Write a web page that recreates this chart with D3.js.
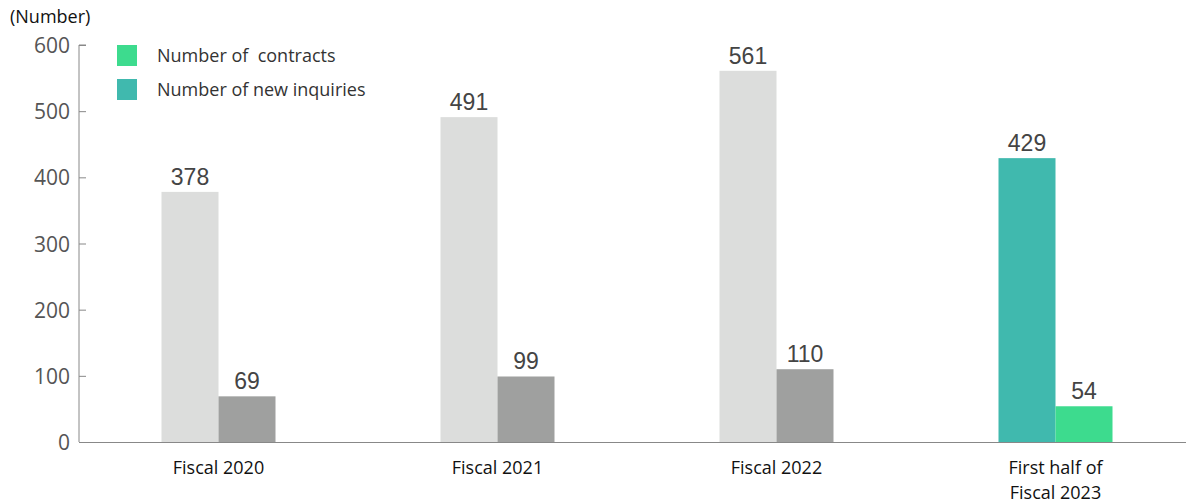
<!DOCTYPE html>
<html><head><meta charset="utf-8">
<script src="https://cdn.jsdelivr.net/npm/d3@7"></script>
<style>body{margin:0;background:#fff}svg{display:block}text{white-space:pre}</style>
</head><body>
<svg id="c" width="1186" height="503"></svg>
<script>
const categories = ["Fiscal 2020", "Fiscal 2021", "Fiscal 2022", "First half of|Fiscal 2023"];
const inquiries = [378, 491, 561, 429];
const contracts = [69, 99, 110, 54];
const yTicks = [0, 100, 200, 300, 400, 500, 600];
const legendLabels = ["Number of  contracts", "Number of new inquiries"];
const inquiryColors = ["#dcdddc", "#dcdddc", "#dcdddc", "#40b9ae"];
const contractColors = ["#9fa09f", "#9fa09f", "#9fa09f", "#3ddb8e"];

const svg = d3.select("#c");
const x = d3.scaleBand().domain(categories).range([79, 1195]);
const y = d3.scaleLinear().domain([0, 600]).range([442, 45]);
const bw = 57;

// y axis
const ya = svg.append("g").attr("transform", "translate(79,0)")
  .call(d3.axisRight(y).tickValues(yTicks).tickSize(7).tickFormat(d3.format("d")));
ya.select(".domain").attr("stroke", "#888").attr("d", "M7,45H0V442");
ya.selectAll(".tick line").attr("stroke", "#888");
ya.selectAll(".tick text").attr("x", -9).attr("text-anchor", "end").attr("dy", "0.36em")
  .attr("fill", "#555").style("font-family", "'Open Sans', sans-serif").style("font-size", "21px");

// bars
const g = svg.append("g");
categories.forEach((c, i) => {
  const cx = x(c) + x.bandwidth() / 2;
  g.append("rect").attr("x", cx - bw).attr("width", bw)
    .attr("y", y(inquiries[i])).attr("height", y(0) - y(inquiries[i])).attr("fill", inquiryColors[i]);
  g.append("rect").attr("x", cx).attr("width", bw)
    .attr("y", y(contracts[i])).attr("height", y(0) - y(contracts[i])).attr("fill", contractColors[i]);
  [[cx - bw / 2, inquiries[i]], [cx + bw / 2, contracts[i]]].forEach(([tx, v]) => {
    g.append("text").attr("x", tx).attr("y", y(v) - 7).attr("text-anchor", "middle")
      .attr("fill", "#444").attr("stroke", "#fff").attr("stroke-width", 4).attr("paint-order", "stroke")
      .attr("stroke-linejoin", "round")
      .style("font-family", "'Liberation Sans', Arial, sans-serif").style("font-size", "23px").text(v);
  });
});

// x axis line
svg.append("line").attr("x1", 79).attr("x2", 1186).attr("y1", 442.5).attr("y2", 442.5).attr("stroke", "#888");

// category labels
categories.forEach(c => {
  const cx = x(c) + x.bandwidth() / 2;
  const lines = c.split("|");
  const t = svg.append("text").attr("text-anchor", "middle").attr("fill", "#111")
    .style("font-family", "'Open Sans', sans-serif").style("font-size", "18px");
  lines.forEach((l, k) => t.append("tspan").attr("x", cx).attr("y", 474 + k * 25).text(l));
});

// unit label
svg.append("text").attr("x", 10).attr("y", 23).attr("fill", "#111")
  .style("font-family", "'Open Sans', sans-serif").style("font-size", "18px").text("(Number)");

// legend
const legendColors = ["#3ddb8e", "#40b9ae"];
legendLabels.forEach((l, k) => {
  svg.append("rect").attr("x", 117).attr("y", 45 + k * 34).attr("width", 20).attr("height", 21).attr("fill", legendColors[k]);
  svg.append("text").attr("x", 157).attr("y", 62 + k * 34).attr("fill", "#333")
    .style("font-family", "'Open Sans', sans-serif").style("font-size", "18px").text(l);
});
</script>
</body></html>
